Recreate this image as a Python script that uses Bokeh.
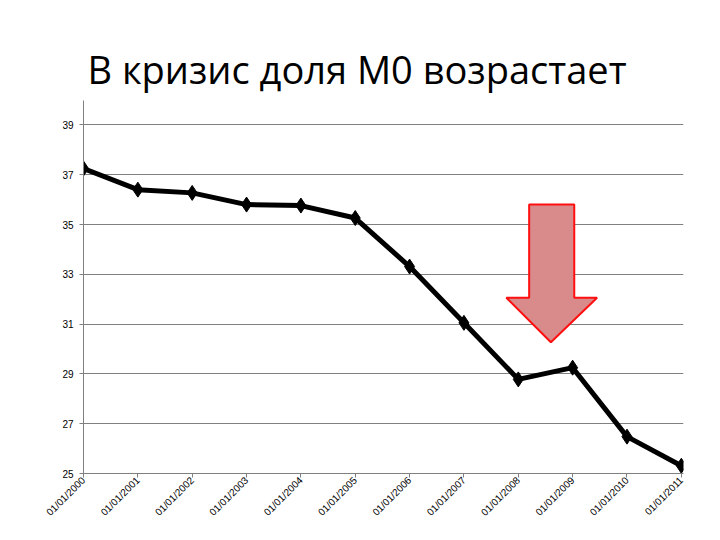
import numpy as np
from bokeh.plotting import figure
from bokeh.models import FixedTicker, Title
from bokeh.embed import file_html
from bokeh.resources import INLINE

years = [2000, 2001, 2002, 2003, 2004, 2005, 2006, 2007, 2008, 2009, 2010, 2011]
m0_share = [37.25, 36.4, 36.27, 35.8, 35.76, 35.26, 33.31, 31.05, 28.78, 29.25, 26.48, 25.31]
date_labels = ["01/01/%d" % y for y in years]
y_ticks = [25, 27, 29, 31, 33, 35, 37, 39]
title_text = "В кризис доля М0 возрастает"

# arrow annotation (data units: year offset, value)
arrow_x = [8.2, 9.03, 9.03, 9.45, 8.6, 7.78, 8.2]
arrow_y = [35.8, 35.8, 32.06, 32.06, 30.27, 32.06, 32.06]

xs = [y - years[0] for y in years]

p = figure(width=704, height=524, output_backend="svg", toolbar_location=None,
           x_range=(0, 11.04), y_range=(25, 39.98),
           min_border_left=83, min_border_right=21, min_border_bottom=46, min_border_top=100)

p.title = Title(text=title_text, text_font="Open Sans", text_font_size="38px",
                text_font_style="normal", text_color="#000000", align="left",
                offset=4, standoff=12)

p.outline_line_color = None
p.background_fill_color = "white"
p.border_fill_color = "white"

p.xgrid.grid_line_color = None
p.ygrid.grid_line_color = "#808080"
p.ygrid.grid_line_width = 1
p.ygrid.ticker = FixedTicker(ticks=y_ticks)

p.yaxis.ticker = FixedTicker(ticks=y_ticks)
p.xaxis.ticker = FixedTicker(ticks=xs)
p.xaxis.major_label_overrides = {x: lab for x, lab in zip(xs, date_labels)}
p.xaxis.major_label_orientation = np.pi / 4
p.xaxis.major_label_standoff = 1
for ax in (p.xaxis, p.yaxis):
    ax.axis_line_color = "#808080"
    ax.major_tick_line_color = "#808080"
    ax.minor_tick_line_color = None
    ax.major_tick_out = 4
    ax.major_tick_in = 0
    ax.major_label_text_font = "Liberation Sans"
    ax.major_label_text_font_size = "10px"
    ax.major_label_text_color = "#000000"
p.yaxis.major_label_standoff = 6

p.patch(arrow_x, arrow_y, fill_color="#d98a8a", line_color="#ff1010", line_width=2)

p.line(xs, m0_share, line_color="black", line_width=5)
p.scatter(xs, m0_share, marker="diamond", size=15, fill_color="black", line_color="black")

open("out.html", "w").write(file_html(p, INLINE))
